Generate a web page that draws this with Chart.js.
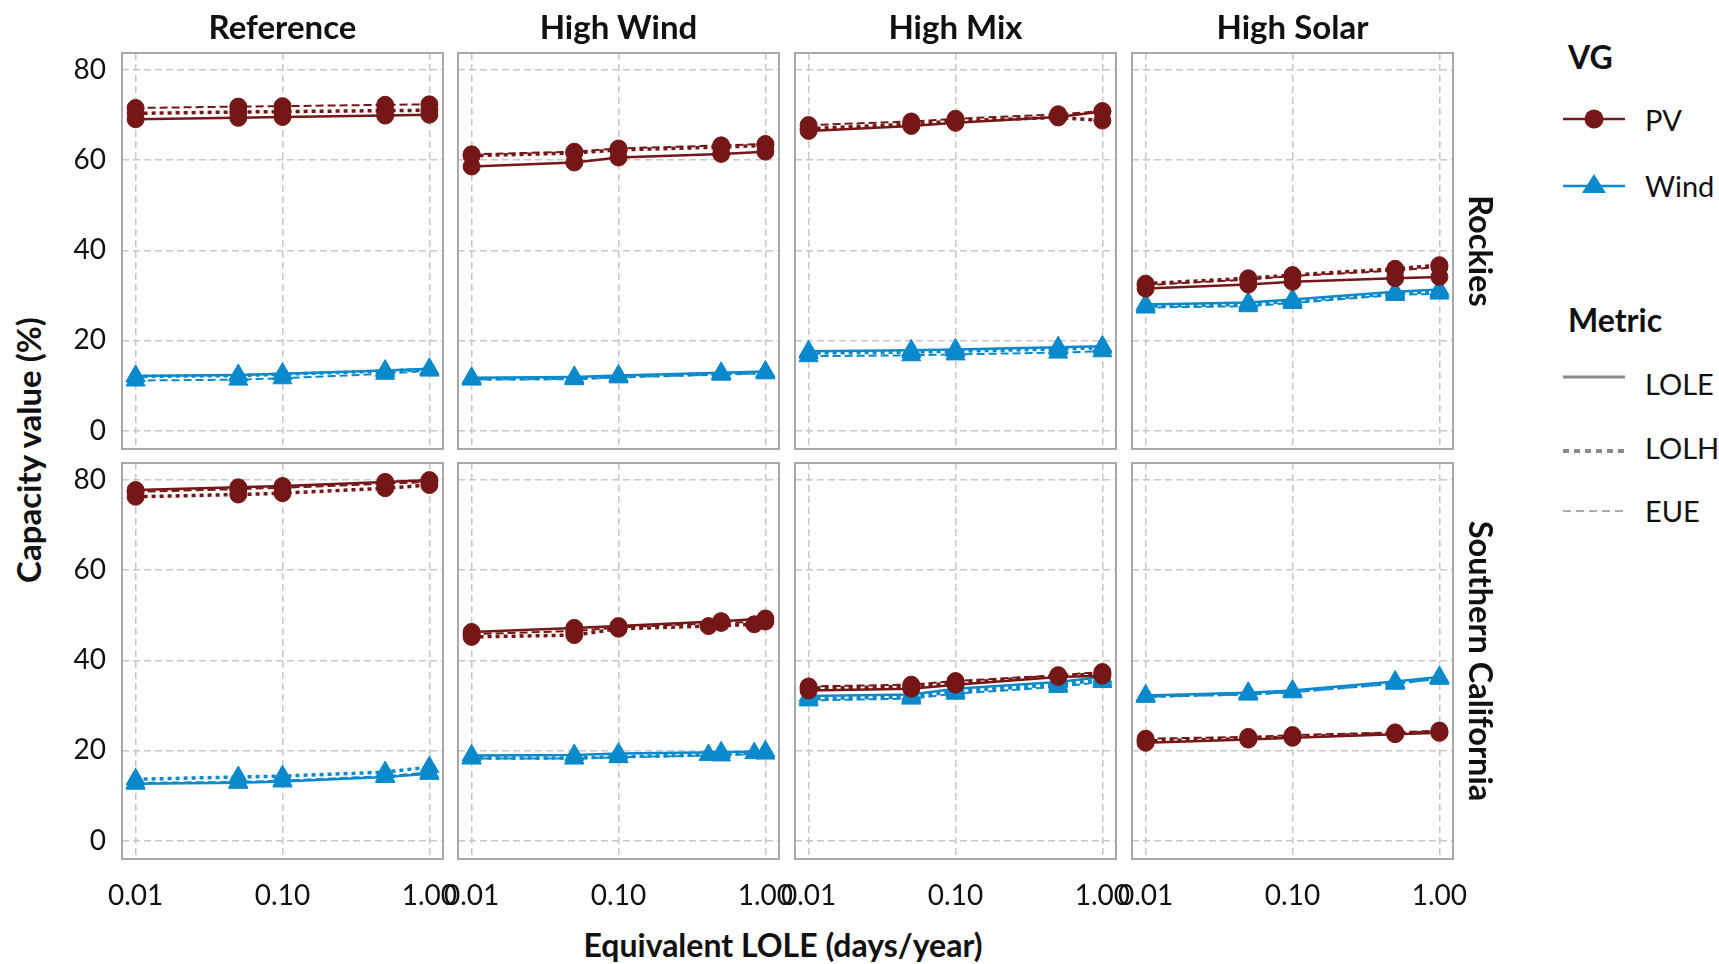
<!DOCTYPE html>
<html><head><meta charset="utf-8">
<script src="https://cdn.jsdelivr.net/npm/chart.js@4"></script>
<style>
html,body{margin:0;padding:0;background:#fff;width:1719px;height:964px;overflow:hidden;font-family:Lato,sans-serif;}
canvas{position:absolute;}
.t{position:absolute;white-space:nowrap;color:#111;line-height:1;}
.b{font-weight:bold;}
</style></head><body>
<script>
// ---------- categories / ticks ----------
const scenarios = ["Reference", "High Wind", "High Mix", "High Solar"];
const regions = ["Rockies", "Southern California"];
const vgs = ["PV", "Wind"];
const metrics = ["LOLE", "LOLH", "EUE"];
const xEquiv = [0.01, 0.05, 0.10, 0.50, 1.00];            // equivalent LOLE (days/year)
const xEquivHighWindSoCalLOLH = [0.01, 0.05, 0.10, 0.41, 0.84];
const xTicks = [0.01, 0.1, 1];
const xTickLabels = ["0.01", "0.10", "1.00"];
const yTicks = [0, 20, 40, 60, 80];
const yTickLabels = ["0", "20", "40", "60", "80"];

// ---------- values: capacity value (%) ----------
// Rockies
const rkRefPV_LOLE = [69.1, 69.4, 69.6, 69.9, 70.1];
const rkRefPV_LOLH = [70.4, 70.7, 70.8, 71.0, 71.1];
const rkRefPV_EUE  = [71.6, 71.9, 72.0, 72.3, 72.4];
const rkRefWind_LOLE = [12.1, 12.3, 12.6, 13.3, 13.7];
const rkRefWind_LOLH = [12.0, 12.2, 12.5, 13.2, 13.6];
const rkRefWind_EUE  = [11.1, 11.3, 11.6, 12.6, 13.3];

const rkHWPV_LOLE = [58.6, 59.5, 60.6, 61.4, 61.9];
const rkHWPV_LOLH = [61.0, 61.6, 62.3, 62.9, 63.3];
const rkHWPV_EUE  = [61.3, 61.9, 62.6, 63.3, 63.6];
const rkHWWind_LOLE = [11.7, 11.9, 12.2, 12.8, 13.1];
const rkHWWind_LOLH = [11.5, 11.6, 12.0, 12.6, 12.9];
const rkHWWind_EUE  = [11.3, 11.4, 11.8, 12.4, 12.7];

const rkHMPV_LOLE = [66.5, 67.6, 68.3, 69.6, 70.8];
const rkHMPV_LOLH = [67.0, 68.0, 68.7, 69.5, 68.8];
const rkHMPV_EUE  = [67.8, 68.6, 69.2, 70.2, 70.9];
const rkHMWind_LOLE = [17.6, 17.8, 18.0, 18.5, 18.7];
const rkHMWind_LOLH = [17.2, 17.4, 17.6, 18.1, 18.4];
const rkHMWind_EUE  = [16.5, 16.7, 16.9, 17.3, 17.6];

const rkHSPV_LOLE = [31.5, 32.4, 33.0, 33.8, 34.1];
const rkHSPV_LOLH = [32.6, 33.8, 34.5, 35.9, 36.7];
const rkHSPV_EUE  = [32.3, 33.5, 34.3, 35.5, 36.3];
const rkHSWind_LOLE = [28.0, 28.4, 29.1, 30.8, 31.3];
const rkHSWind_LOLH = [27.6, 28.0, 28.7, 30.4, 30.9];
const rkHSWind_EUE  = [27.3, 27.6, 28.3, 30.1, 30.4];

// Southern California
const scRefPV_LOLE = [77.8, 78.4, 78.7, 79.6, 80.0];
const scRefPV_LOLH = [76.3, 76.8, 77.1, 78.2, 78.9];
const scRefPV_EUE  = [77.4, 78.0, 78.3, 79.2, 79.6];
const scRefWind_LOLE = [12.6, 12.8, 13.1, 14.1, 14.8];
const scRefWind_LOLH = [13.6, 14.1, 14.3, 15.2, 16.3];
const scRefWind_EUE  = [12.8, 13.0, 13.3, 14.3, 15.1];

const scHWPV_LOLE = [46.3, 47.2, 47.6, 48.7, 49.3];
const scHWPV_LOLH = [45.2, 45.6, 47.0, 47.6, 48.0];
const scHWPV_EUE  = [45.8, 46.5, 47.3, 48.3, 48.6];
const scHWWind_LOLE = [18.9, 19.0, 19.3, 19.6, 19.8];
const scHWWind_LOLH = [18.3, 18.3, 18.6, 19.0, 19.4];
const scHWWind_EUE  = [18.2, 18.2, 18.5, 18.9, 19.3];

const scHMPV_LOLE = [33.3, 33.7, 34.6, 36.3, 36.6];
const scHMPV_LOLH = [33.8, 34.2, 35.0, 36.5, 37.0];
const scHMPV_EUE  = [34.2, 34.6, 35.4, 36.7, 37.4];
const scHMWind_LOLE = [32.1, 32.4, 33.7, 35.2, 36.3];
const scHMWind_LOLH = [31.5, 31.9, 33.1, 34.6, 35.7];
const scHMWind_EUE  = [31.1, 31.5, 32.6, 34.1, 35.2];

const scHSPV_LOLE = [21.7, 22.4, 22.8, 23.6, 23.9];
const scHSPV_LOLH = [22.1, 22.6, 23.0, 23.8, 24.1];
const scHSPV_EUE  = [22.6, 23.0, 23.4, 24.0, 24.4];
const scHSWind_LOLE = [32.2, 32.8, 33.3, 35.3, 36.3];
const scHSWind_LOLH = [32.0, 32.6, 33.1, 35.0, 36.1];
const scHSWind_EUE  = [31.9, 32.4, 32.9, 34.8, 35.9];

// ---------- table built from the arrays ----------
const table = [
  [ // Rockies
    {PV:[rkRefPV_LOLE, rkRefPV_LOLH, rkRefPV_EUE], Wind:[rkRefWind_LOLE, rkRefWind_LOLH, rkRefWind_EUE]},
    {PV:[rkHWPV_LOLE, rkHWPV_LOLH, rkHWPV_EUE], Wind:[rkHWWind_LOLE, rkHWWind_LOLH, rkHWWind_EUE]},
    {PV:[rkHMPV_LOLE, rkHMPV_LOLH, rkHMPV_EUE], Wind:[rkHMWind_LOLE, rkHMWind_LOLH, rkHMWind_EUE]},
    {PV:[rkHSPV_LOLE, rkHSPV_LOLH, rkHSPV_EUE], Wind:[rkHSWind_LOLE, rkHSWind_LOLH, rkHSWind_EUE]}
  ],
  [ // Southern California
    {PV:[scRefPV_LOLE, scRefPV_LOLH, scRefPV_EUE], Wind:[scRefWind_LOLE, scRefWind_LOLH, scRefWind_EUE]},
    {PV:[scHWPV_LOLE, scHWPV_LOLH, scHWPV_EUE], Wind:[scHWWind_LOLE, scHWWind_LOLH, scHWWind_EUE]},
    {PV:[scHMPV_LOLE, scHMPV_LOLH, scHMPV_EUE], Wind:[scHMWind_LOLE, scHMWind_LOLH, scHMWind_EUE]},
    {PV:[scHSPV_LOLE, scHSPV_LOLH, scHSPV_EUE], Wind:[scHSWind_LOLE, scHSWind_LOLH, scHSWind_EUE]}
  ]
];
function xFor(r, c, m) {
  if (r === 1 && c === 1 && m === 1) return xEquivHighWindSoCalLOLH;
  return xEquiv;
}

// ---------- styles / layout ----------
const vgColor = {PV: "#751717", Wind: "#0a89cc"};
const metricStyle = [
  {w: 2.5, dash: []},
  {w: 3.5, dash: [4, 4]},
  {w: 2, dash: [8, 4]}
];
const colX = [122, 458, 795, 1132];
const rowY = [53, 463];
const PW = 321, PH = 396;
const PL = 60, PR = 40, PT = 45, PB = 60;

Chart.defaults.font.family = "Lato";
Chart.defaults.color = "#111";

const borderPlugin = {
  id: "panelBorder",
  afterDraw(chart) {
    const {ctx, chartArea: a} = chart;
    ctx.save();
    ctx.strokeStyle = "#a8a8a8";
    ctx.lineWidth = 2;
    ctx.strokeRect(a.left, a.top, a.right - a.left, a.bottom - a.top);
    ctx.restore();
  }
};

function addText(txt, x, y, size, bold, rot) {
  const d = document.createElement("div");
  d.className = "t" + (bold ? " b" : "");
  d.textContent = txt;
  d.style.fontSize = size + "px";
  d.style.left = x + "px";
  d.style.top = y + "px";
  d.style.transform = "translate(-50%,-50%)" + (rot ? " rotate(" + rot + "deg)" : "");
  document.body.appendChild(d);
}
function addTextLeft(txt, x, y, size, bold) {
  const d = document.createElement("div");
  d.className = "t" + (bold ? " b" : "");
  d.textContent = txt;
  d.style.fontSize = size + "px";
  d.style.left = x + "px";
  d.style.top = y + "px";
  d.style.transform = "translate(0,-50%)";
  document.body.appendChild(d);
}

for (let r = 0; r < 2; r++) {
  for (let c = 0; c < 4; c++) {
    const cv = document.createElement("canvas");
    const w = PW + PL + PR, h = PH + PT + PB;
    cv.width = w; cv.height = h;
    cv.style.width = w + "px"; cv.style.height = h + "px";
    cv.style.left = (colX[c] - PL) + "px";
    cv.style.top = (rowY[r] - PT) + "px";
    document.body.appendChild(cv);

    const datasets = [];
    vgs.forEach(vg => {
      metrics.forEach((m, mi) => {
        const ys = table[r][c][vg][mi];
        const xs = xFor(r, c, mi);
        const st = metricStyle[mi];
        datasets.push({
          label: vg + " " + m,
          data: xs.map((x, i) => ({x: x, y: ys[i]})),
          borderColor: vgColor[vg],
          backgroundColor: vgColor[vg],
          borderWidth: st.w,
          borderDash: st.dash,
          pointStyle: vg === "PV" ? "circle" : "triangle",
          pointRadius: vg === "PV" ? 8.5 : 11,
          pointBorderWidth: 1,
          pointBackgroundColor: vgColor[vg],
          pointBorderColor: vgColor[vg],
          tension: 0,
          fill: false,
          clip: false
        });
      });
    });

    new Chart(cv, {
      type: "line",
      data: {datasets},
      plugins: [borderPlugin],
      options: {
        responsive: false,
        animation: false,
        events: [],
        layout: {padding: {left: c === 0 ? 0 : PL, right: PR, top: PT, bottom: r === 1 ? 0 : PB}},
        plugins: {legend: {display: false}, tooltip: {enabled: false}},
        scales: {
          x: {
            type: "logarithmic",
            min: 0.008078, max: 1.238,
            afterBuildTicks: s => { s.ticks = xTicks.map(v => ({value: v})); },
            afterFit: s => { s.height = r === 1 ? PB : 0; },
            ticks: {
              display: r === 1, autoSkip: false, maxRotation: 0, minRotation: 0,
              padding: 20, font: {size: 28}, color: "#111",
              callback: (v, i) => xTickLabels[i]
            },
            grid: {color: "#c8c8c8", lineWidth: 1.5, drawTicks: false},
            border: {display: false, dash: [7, 4]}
          },
          y: {
            type: "linear",
            min: -4.1, max: 83.8,
            afterBuildTicks: s => { s.ticks = yTicks.map(v => ({value: v})); },
            afterFit: s => { s.width = c === 0 ? PL : 0; },
            ticks: {
              display: c === 0, padding: 16, font: {size: 28}, color: "#111",
              callback: (v, i) => yTickLabels[i]
            },
            grid: {color: "#c8c8c8", lineWidth: 1.5, drawTicks: false},
            border: {display: false, dash: [7, 4]}
          }
        }
      }
    });
  }
}

// strip labels
scenarios.forEach((s, c) => addText(s, colX[c] + PW / 2, 26, 33, true));
regions.forEach((s, r) => addText(s, 1481, rowY[r] + PH / 2, 32.5, true, 90));
// axis titles
addText("Capacity value (%)", 28, 450, 33, true, -90);
addText("Equivalent LOLE (days/year)", 783, 945, 32, true);

// legend
addTextLeft("VG", 1568, 57, 32, true);
addTextLeft("Metric", 1568, 320, 32, true);
const legendItems = [
  {t: "PV", y: 119}, {t: "Wind", y: 185},
  {t: "LOLE", y: 383}, {t: "LOLH", y: 447}, {t: "EUE", y: 510}
];
legendItems.forEach(it => addTextLeft(it.t, 1645, it.y, 29, false));
const svgNS = "http://www.w3.org/2000/svg";
const svg = document.createElementNS(svgNS, "svg");
svg.setAttribute("width", "1719"); svg.setAttribute("height", "964");
svg.style.position = "absolute"; svg.style.left = "0"; svg.style.top = "0";
svg.innerHTML =
  '<line x1="1563" y1="119" x2="1625" y2="119" stroke="' + vgColor.PV + '" stroke-width="2.5"/>' +
  '<circle cx="1594" cy="119" r="9.5" fill="' + vgColor.PV + '"/>' +
  '<line x1="1563" y1="186" x2="1625" y2="186" stroke="' + vgColor.Wind + '" stroke-width="2.5"/>' +
  '<polygon points="1594,174 1606,193 1582,193" fill="' + vgColor.Wind + '"/>' +
  '<line x1="1563" y1="377" x2="1625" y2="377" stroke="#8a8a8a" stroke-width="3"/>' +
  '<line x1="1563" y1="451" x2="1625" y2="451" stroke="#8a8a8a" stroke-width="4" stroke-dasharray="6,5"/>' +
  '<line x1="1563" y1="511" x2="1625" y2="511" stroke="#ababab" stroke-width="2" stroke-dasharray="8,5"/>';
document.body.appendChild(svg);
</script>
</body></html>
